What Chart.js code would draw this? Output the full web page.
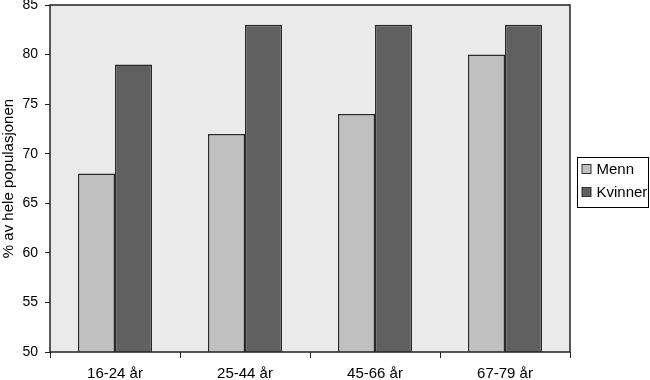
<!DOCTYPE html>
<html>
<head>
<meta charset="utf-8">
<script src="https://cdn.jsdelivr.net/npm/chart.js@4"></script>
<style>
  body { margin: 0; background: #fff; }
  #wrap { width: 650px; height: 380px; }
</style>
</head>
<body>
<div id="wrap"><canvas id="myChart" width="650" height="380"></canvas></div>
<script>
var categories = ["16-24 år", "25-44 år", "45-66 år", "67-79 år"];
var menn = [68, 72, 74, 80];
var kvinner = [79, 83, 83, 83];
var seriesNames = ["Menn", "Kvinner"];
var seriesColors = ["#c0c0c0", "#606060"];

// plot background, frame and boxed legend
var frame = {
  id: 'frame',
  beforeDatasetsDraw: function(chart) {
    var ctx = chart.ctx, a = chart.chartArea;
    ctx.save();
    ctx.fillStyle = '#eaeaea';
    ctx.fillRect(a.left, a.top, a.right - a.left, a.bottom - a.top);
    ctx.restore();
  },
  afterDraw: function(chart) {
    var ctx = chart.ctx, a = chart.chartArea;
    ctx.save();
    ctx.strokeStyle = '#222';
    ctx.lineWidth = 1.5;
    ctx.strokeRect(a.left, a.top, a.right - a.left, a.bottom - a.top);

    // legend
    var lx = 577.5, ly = 157.5, lw = 71, lh = 50;
    ctx.lineWidth = 1;
    ctx.strokeStyle = '#000';
    ctx.strokeRect(lx, ly, lw, lh);
    ctx.font = '15px "Liberation Sans", Arial, sans-serif';
    ctx.textBaseline = 'middle';
    for (var i = 0; i < seriesNames.length; i++) {
      var cy = ly + 11.5 + i * 23;
      ctx.fillStyle = seriesColors[i];
      ctx.fillRect(lx + 4.5, cy - 4.5, 9, 9);
      ctx.strokeStyle = '#333';
      ctx.strokeRect(lx + 4.5, cy - 4.5, 9, 9);
      ctx.fillStyle = '#000';
      ctx.fillText(seriesNames[i], lx + 19, cy + 1);
    }
    ctx.restore();
  }
};

var myChart = new Chart(document.getElementById('myChart').getContext('2d'), {
  type: 'bar',
  data: {
    labels: categories,
    datasets: [
      { label: seriesNames[0], data: menn, backgroundColor: seriesColors[0], borderColor: '#2a2a2a', borderWidth: 1.5 },
      { label: seriesNames[1], data: kvinner, backgroundColor: seriesColors[1], borderColor: '#2a2a2a', borderWidth: 1.5 }
    ]
  },
  options: {
    responsive: false,
    animation: false,
    layout: { padding: { top: 5, right: 80, bottom: 0, left: 0 } },
    plugins: { legend: { display: false }, tooltip: { enabled: false } },
    datasets: { bar: { categoryPercentage: 0.57, barPercentage: 1 } },
    scales: {
      x: {
        grid: { offset: true, drawOnChartArea: false, tickLength: 6, color: '#222', lineWidth: 1 },
        border: { display: false },
        ticks: { color: '#000', padding: 7, font: { family: '"Liberation Sans", Arial', size: 15 } },
        afterFit: function(s) { s.height = 28; s.paddingLeft = 0; s.paddingRight = 0; }
      },
      y: {
        min: 50,
        max: 85,
        ticks: { stepSize: 5, color: '#000', padding: 7, font: { family: '"Liberation Sans", Arial', size: 14 } },
        grid: { drawOnChartArea: false, tickLength: 5, color: '#222', lineWidth: 1 },
        border: { display: false },
        title: { display: true, text: '% av hele populasjonen', color: '#000', padding: 0, font: { family: '"Liberation Sans", Arial', size: 15 } },
        afterFit: function(s) { s.width = 50; s.paddingTop = 0; s.paddingBottom = 0; }
      }
    }
  },
  plugins: [frame]
});
</script>
</body>
</html>
